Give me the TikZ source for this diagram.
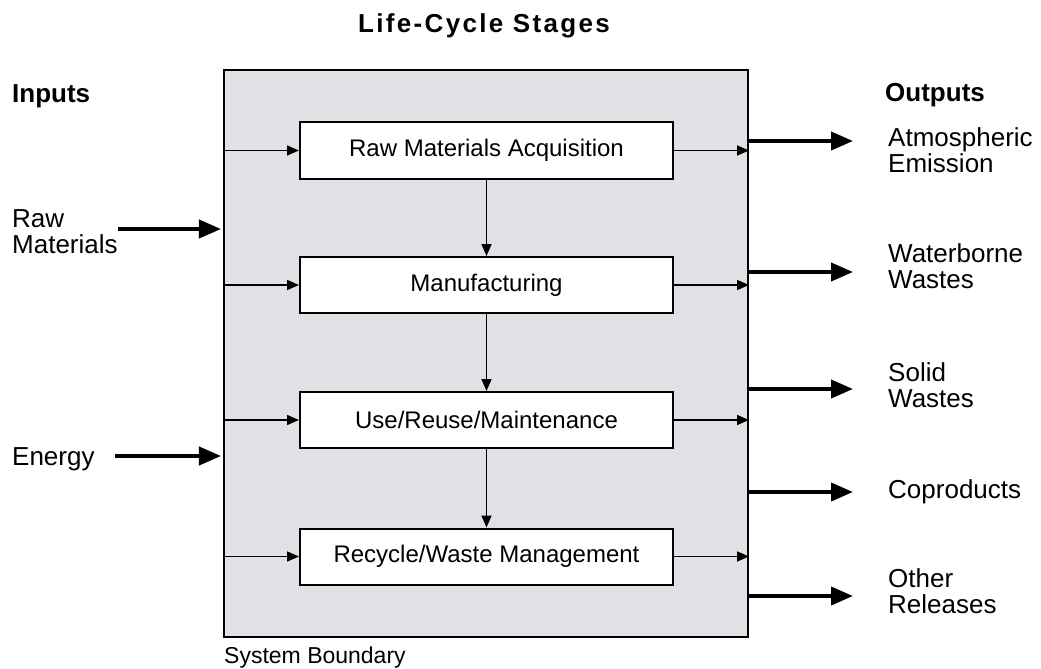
\documentclass[tikz,border=0pt]{standalone}
\usepackage{fontspec}
\setmainfont{Liberation Sans}
\usetikzlibrary{arrows.meta}
\definecolor{boxgray}{RGB}{224,224,229}
\begin{document}
\begin{tikzpicture}[x=1bp,y=-1bp,
  lbl/.style={font=\fontsize{26bp}{26bp}\selectfont, inner sep=0pt, align=left, anchor=base west},
  head/.style={font=\bfseries\fontsize{26bp}{26bp}\selectfont, inner sep=0pt, anchor=base west},
  stage/.style={draw, line width=2bp, fill=white, minimum width=373bp, minimum height=56bp, inner sep=0pt, font=\fontsize{24bp}{28bp}\selectfont},
  thinarrow/.style={line width=1.6bp, -{Triangle[length=12bp,width=10bp]}},
  thickarrow/.style={line width=4bp, -{Triangle[length=22bp,width=18bp]}},
]
\useasboundingbox (0,0) rectangle (1041,669);
% title
\node[font=\bfseries\fontsize{26bp}{26bp}\selectfont\addfontfeature{LetterSpace=9}, inner sep=0pt, anchor=base] (title) at (484,33) {Life-Cycle Stages};
% system boundary
\node[draw, line width=2bp, fill=boxgray, minimum width=524bp, minimum height=567bp, inner sep=0pt] (sys) at (486,353.5) {};
\node[font=\fontsize{23bp}{23bp}\selectfont, inner sep=0pt, anchor=base west] (sb) at (224,663) {System Boundary};
% stages
\node[stage] (rma) at (486.5,150.5) {Raw Materials Acquisition};
\node[stage] (man) at (486.5,285) {Manufacturing};
\node[stage] (use) at (486.5,420) {Use/Reuse/Maintenance};
\node[stage] (rec) at (486.5,556.5) {Recycle/Waste Management};
% vertical flow
\draw[thinarrow] (rma) -- (man);
\draw[thinarrow] (man) -- (use);
\draw[thinarrow] (use) -- (rec);
% side arrows
\foreach \s in {rma,man,use,rec}{
  \draw[thinarrow] (sys.west |- \s) -- (\s);
  \draw[thinarrow] (\s) -- (sys.east |- \s);
}
% inputs (multi-line labels: base = last line)
\node[head] (inputs) at (12,103) {Inputs};
\node[lbl] (rawmat) at (12,253) {Raw\\Materials};
\node[lbl] (energy) at (12,465) {Energy};
\coordinate (rmstart) at (118,229);
\coordinate (enstart) at (115,456);
\draw[thickarrow, shorten >=2bp] (rmstart) -- (sys.west |- rmstart);
\draw[thickarrow, shorten >=2bp] (enstart) -- (sys.west |- enstart);
% outputs
\node[head] (outputs) at (885,102) {Outputs};
\node[lbl] (atm) at (888,173) {Atmospheric\\Emission};
\node[lbl] (wat) at (888,288) {Waterborne\\Wastes};
\node[lbl] (sol) at (888,407) {Solid\\Wastes};
\node[lbl] (cop) at (888,498) {Coproducts};
\node[lbl] (oth) at (888,613) {Other\\Releases};
\coordinate (o1) at (853,141);
\coordinate (o2) at (853,272);
\coordinate (o3) at (853,389);
\coordinate (o4) at (853,492);
\coordinate (o5) at (853,596);
\foreach \o in {o1,o2,o3,o4,o5}{
  \draw[thickarrow] (sys.east |- \o) -- (\o);
}
\end{tikzpicture}
\end{document}
